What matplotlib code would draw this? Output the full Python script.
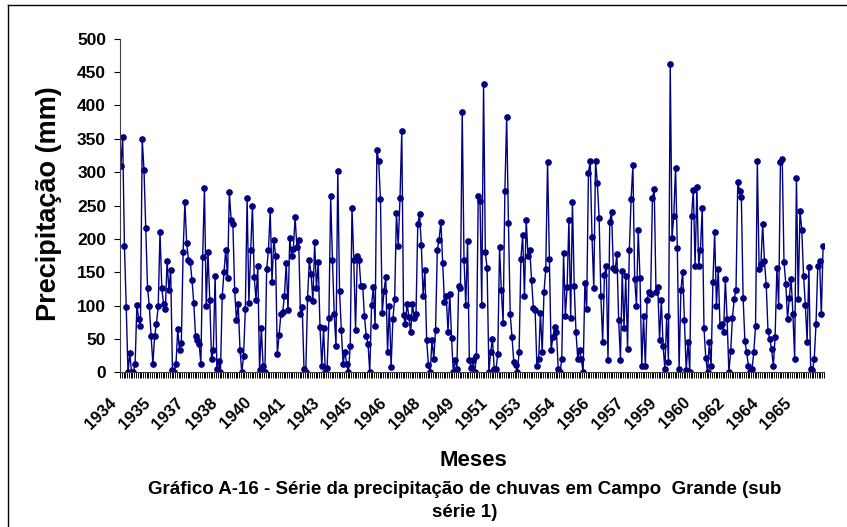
import numpy as np
import matplotlib
matplotlib.use("Agg")
import matplotlib.pyplot as plt
import matplotlib.transforms as mtrans
from matplotlib.lines import Line2D

plt.rcParams['font.family'] = ['Liberation Sans', 'DejaVu Sans']
plt.rcParams['font.weight'] = 'bold'

# monthly rainfall (mm), Campo Grande
precip = [
    310, 352, 189, 98, 0, 29, 0, 0, 13, 101, 80, 70,
    349, 303, 216, 126, 99, 54, 13, 55, 73, 99, 210, 127,
    102, 95, 167, 123, 153, 3, 0, 13, 65, 33, 44, 181,
    255, 194, 169, 166, 138, 104, 54, 48, 43, 13, 173, 277,
    100, 180, 108, 20, 33, 145, 5, 17, 0, 114, 151, 184,
    142, 270, 229, 222, 123, 78, 102, 34, 0, 24, 95, 261,
    104, 183, 249, 143, 109, 159, 3, 67, 9, 0, 155, 183,
    243, 135, 199, 175, 27, 56, 88, 90, 115, 164, 93, 202,
    174, 185, 233, 188, 198, 88, 98, 5, 0, 112, 168, 147,
    107, 195, 126, 165, 68, 9, 66, 0, 6, 81, 264, 169,
    88, 40, 302, 122, 63, 13, 31, 13, 0, 39, 247, 168,
    64, 175, 168, 130, 130, 84, 55, 43, 0, 101, 128, 70,
    333, 317, 260, 89, 122, 143, 30, 100, 8, 80, 110, 239,
    190, 261, 361, 86, 72, 103, 83, 60, 103, 82, 88, 222,
    237, 191, 114, 153, 48, 11, 0, 49, 20, 64, 184, 199,
    226, 164, 105, 115, 61, 118, 51, 0, 19, 5, 130, 127,
    390, 169, 101, 197, 18, 6, 18, 0, 25, 264, 257, 101,
    432, 180, 156, 1, 31, 50, 5, 5, 27, 188, 123, 74,
    272, 383, 224, 87, 53, 16, 11, 1, 30, 170, 206, 115,
    229, 175, 184, 139, 97, 94, 10, 20, 89, 30, 121, 155,
    315, 170, 33, 53, 68, 61, 5, 0, 20, 179, 85, 128,
    228, 82, 255, 129, 60, 20, 33, 20, 0, 134, 95, 299,
    317, 203, 126, 317, 284, 232, 114, 45, 146, 160, 19, 226,
    241, 156, 153, 177, 78, 19, 152, 67, 144, 35, 184, 260,
    311, 140, 100, 213, 141, 10, 84, 9, 109, 121, 118, 261,
    275, 120, 128, 49, 109, 39, 5, 84, 15, 462, 202, 235,
    307, 186, 5, 123, 151, 78, 3, 45, 1, 235, 273, 160,
    278, 160, 184, 246, 66, 22, 0, 45, 10, 135, 210, 99,
    155, 70, 73, 60, 140, 80, 0, 32, 82, 110, 124, 286,
    272, 263, 112, 47, 30, 10, 0, 5, 30, 70, 317, 155,
    162, 222, 167, 131, 62, 50, 35, 10, 53, 157, 100, 315,
    320, 165, 133, 80, 112, 140, 88, 20, 292, 110, 242, 214,
    145, 101, 46, 158, 5, 3, 20, 72, 160, 167, 87, 190,
]

year_labels = ['1934', '1935', '1937', '1938', '1940', '1941', '1943', '1945',
               '1946', '1948', '1949', '1951', '1953', '1954', '1956', '1957',
               '1959', '1960', '1962', '1964', '1965']
label_step = 19  # excel shows one category label every 19 months

n = len(precip)
x = np.arange(n)

fig = plt.figure(figsize=(8.47, 5.27), dpi=100)
ax = fig.add_axes([120/847, 1 - 372.4/527, 704/847, 333.7/527])

ax.plot(x, precip, color='#000080', lw=1.0, marker='o', ms=3.8,
        markerfacecolor='#000080', markeredgecolor='#000080')

ax.set_xlim(-0.5, n - 0.5)
ax.set_ylim(0, 500)
ax.set_yticks(np.arange(0, 501, 50))
ax.tick_params(axis='y', direction='out', length=4, width=0.8, pad=6, labelsize=12.5)

ax.set_xticks(np.arange(len(year_labels)) * label_step)
ax.set_xticklabels(year_labels, rotation=45, ha='right', va='center',
                   rotation_mode='anchor', fontsize=12, fontweight='bold')
ax.set_xticks(np.arange(-0.5, n, 1), minor=True)
ax.tick_params(axis='x', which='major', length=0, pad=20)
ax.tick_params(axis='x', which='minor', direction='out', length=4, width=0.7)
shift = mtrans.ScaledTranslation(-7/100, 0, fig.dpi_scale_trans)
for lbl in ax.get_xticklabels():
    lbl.set_transform(lbl.get_transform() + shift)
for lbl in ax.get_yticklabels():
    lbl.set_fontweight('bold')

for side in ['top', 'right']:
    ax.spines[side].set_visible(False)
for side in ['left', 'bottom']:
    ax.spines[side].set_color('#404040')
    ax.spines[side].set_linewidth(0.8)

fig.text(48.6/847, 1 - 204/527, 'Precipitação (mm)', rotation=90,
         ha='center', va='center', fontsize=19.5, fontweight='bold')
fig.text(473/847, 1 - 460/527, 'Meses', ha='center', va='center',
         fontsize=16, fontweight='bold')
fig.text(465/847, 1 - 490/527,
         'Gráfico A-16 - Série da precipitação de chuvas em Campo  Grande (sub',
         ha='center', va='center', fontsize=13.5, fontweight='bold')
fig.text(465/847, 1 - 512.6/527, 'série 1)', ha='center', va='center',
         fontsize=13.5, fontweight='bold')

# chart area border (only left and top edges are inside the picture)
fig.add_artist(Line2D([8/847, 8/847], [0, 1 - 5/527], color='black', lw=1.0))
fig.add_artist(Line2D([8/847, 1], [1 - 5/527, 1 - 5/527], color='black', lw=1.0))

fig.savefig('out.png', dpi=100)
